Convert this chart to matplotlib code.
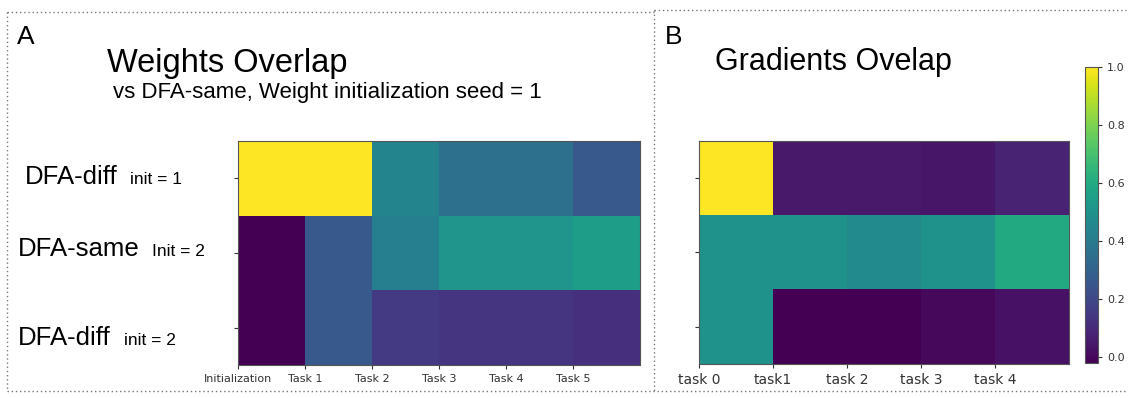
import numpy as np
import matplotlib.pyplot as plt
from matplotlib.lines import Line2D

# overlap of weights vs DFA-same (seed = 1)
weight_rows = ['DFA-diff', 'DFA-same', 'DFA-diff']
weight_inits = ['init = 1', 'Init = 2', 'init = 2']
weight_ticks = ['Initialization', 'Task 1', 'Task 2', 'Task 3', 'Task 4', 'Task 5']
weights_overlap = np.array([
    [1.00, 1.00, 0.45, 0.37, 0.37, 0.28],
    [0.00, 0.28, 0.43, 0.52, 0.52, 0.56],
    [0.00, 0.28, 0.17, 0.15, 0.15, 0.14],
])

# overlap of gradients
grad_ticks = ['task 0', 'task1', 'task 2', 'task 3', 'task 4']
grads_overlap = np.array([
    [1.00, 0.05, 0.05, 0.04, 0.08],
    [0.50, 0.50, 0.47, 0.50, 0.60],
    [0.50, -0.02, -0.02, 0.00, 0.03],
])

W, H = 1128, 398
fig = plt.figure(figsize=(W / 100, H / 100), dpi=100, facecolor='w')

def px(x0, y0, x1, y1):
    # pixel box (top-left origin) -> figure fraction rect
    return [x0 / W, 1 - y1 / H, (x1 - x0) / W, (y1 - y0) / H]

spine_c = '#555555'

# panel A
ax1 = fig.add_axes(px(238, 141, 640, 365))
ax1.imshow(weights_overlap, cmap='viridis', aspect='auto',
           extent=[0, weights_overlap.shape[1], weights_overlap.shape[0], 0])
ax1.set_xticks(np.arange(len(weight_ticks)))
ax1.set_xticklabels(weight_ticks, fontsize=8, color='#333333')
ax1.set_yticks(np.arange(len(weight_rows)) + 0.5)
ax1.set_yticklabels([])
ax1.tick_params(length=3, color='#333333')
for s in ax1.spines.values():
    s.set_color(spine_c)

# panel B
ax2 = fig.add_axes(px(699, 141, 1069, 364))
im = ax2.imshow(grads_overlap, cmap='viridis', aspect='auto',
                extent=[0, grads_overlap.shape[1], grads_overlap.shape[0], 0])
ax2.set_xticks(np.arange(len(grad_ticks)))
ax2.set_xticklabels(grad_ticks, fontsize=10, color='#333333')
ax2.set_yticks(np.arange(grads_overlap.shape[0]) + 0.5)
ax2.set_yticklabels([])
ax2.tick_params(length=3, color='#333333')
for s in ax2.spines.values():
    s.set_color(spine_c)

cax = fig.add_axes(px(1085, 67, 1098, 363))
cb = fig.colorbar(im, cax=cax, ticks=[0.0, 0.2, 0.4, 0.6, 0.8, 1.0])
cb.ax.tick_params(labelsize=8, length=3, colors='#333333')
cb.outline.set_edgecolor(spine_c)

# titles and row labels
font = 'Liberation Sans'
fig.text(17 / W, 1 - 44 / H, 'A', fontsize=19, family=font)
fig.text(107 / W, 1 - 72 / H, 'Weights Overlap', fontsize=23.5, family=font)
fig.text(113 / W, 1 - 98 / H, 'vs DFA-same, Weight initialization seed = 1',
         fontsize=16, family=font)
fig.text(665 / W, 1 - 44 / H, 'B', fontsize=19, family=font)
fig.text(715 / W, 1 - 70 / H, 'Gradients Ovelap', fontsize=22, family=font)

row_x = [25, 18, 18]
init_x = [130, 152, 124]
row_y = [184, 256, 345]
for name, init, x, xi, y in zip(weight_rows, weight_inits, row_x, init_x, row_y):
    fig.text(x / W, 1 - y / H, name, fontsize=18.5, family=font)
    fig.text(xi / W, 1 - y / H, init, fontsize=12.5, family=font)

# dotted panel frames
dot = dict(color='#777777', lw=1.0, ls=(0, (1, 2)))
fig.add_artist(Line2D([7 / W, 654 / W], [1 - 12 / H, 1 - 12 / H], **dot))
fig.add_artist(Line2D([654 / W, 1126 / W], [1 - 10 / H, 1 - 10 / H], **dot))
fig.add_artist(Line2D([7 / W, 7 / W], [1 - 12 / H, 1 - 391 / H], **dot))
fig.add_artist(Line2D([654 / W, 654 / W], [1 - 10 / H, 1 - 391 / H], **dot))
fig.add_artist(Line2D([7 / W, 1126 / W], [1 - 391 / H, 1 - 391 / H], **dot))

fig.savefig('out.png', dpi=100, facecolor='w')
